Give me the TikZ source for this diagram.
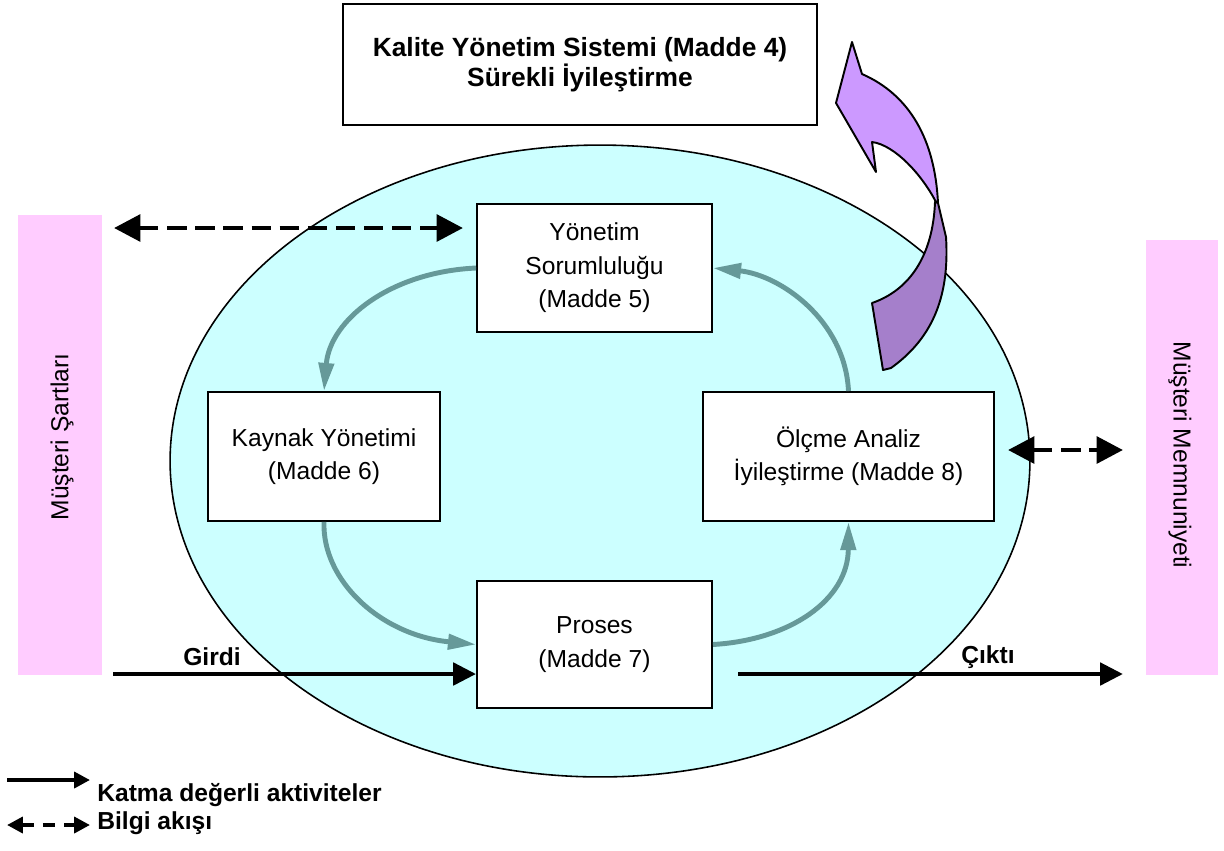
\documentclass[tikz,border=0pt]{standalone}
\usepackage{fontspec}
\setmainfont{Liberation Sans}
\usetikzlibrary{arrows.meta,shapes.geometric}
\definecolor{cyanfill}{HTML}{CCFFFF}
\definecolor{pinkfill}{HTML}{FFCCFF}
\definecolor{tealarrow}{HTML}{669999}
\definecolor{purplelight}{HTML}{CC99FF}
\definecolor{purpledark}{HTML}{A57FCB}
\begin{document}
\begin{tikzpicture}[x=0.02cm,y=-0.02cm,
  box/.style={draw, line width=1.1pt, fill=white, align=center, inner sep=0pt, font=\fontsize{14}{19}\selectfont},
  titlebox/.style={draw, line width=1.6pt, fill=white, align=center, inner sep=0pt, font=\bfseries\fontsize{15}{15.5}\selectfont},
  pinkbar/.style={fill=pinkfill, inner sep=0pt, outer sep=0pt},
  vtext/.style={font=\fontsize{14}{16}\selectfont},
  flow/.style={line width=2.8pt, -{Triangle[length=13pt,width=12.5pt]}},
  info/.style={line width=2.8pt, dash pattern=on 11pt off 5pt, {Triangle[length=15pt,width=15pt]}-{Triangle[length=15pt,width=15pt]}},
  cyc/.style={draw=tealarrow, line width=2.8pt, -{Triangle[length=16pt,width=8.5pt]}},
  lbl/.style={font=\bfseries\fontsize{14}{16}\selectfont},
  legflow/.style={line width=2.2pt, -{Triangle[length=9pt,width=9pt]}},
  leginfo/.style={line width=2.2pt, dash pattern=on 7pt off 5pt, {Triangle[length=9pt,width=9pt]}-{Triangle[length=9pt,width=9pt]}},
  ribbon/.style={draw, line width=1.1pt, line join=round}
]
\useasboundingbox[fill=white] (0,0) rectangle (1224,850);

% big ellipse
\node[ellipse, draw, line width=0.9pt, fill=cyanfill, minimum width=17.2cm, minimum height=12.64cm, inner sep=0pt] (sys) at (600,461) {};

% side bars
\node[pinkbar, minimum width=1.68cm, minimum height=9.2cm] (ms) at (60,445) {};
\node[vtext, rotate=90] (mstext) at (62,437) {Müşteri Şartları};
\node[pinkbar, minimum width=1.44cm, minimum height=8.7cm] (mm) at (1182,457.5) {};
\node[vtext, rotate=-90] (mmtext) at (1180,455) {Müşteri Memnuniyeti};

% free ends
\coordinate (dlA) at (114,228);
\coordinate (dlB) at (463,228);
\coordinate (drA) at (1008,450);
\coordinate (drB) at (1123,450);
\coordinate (gin) at (113,674);
\coordinate (coutA) at (738,674);
\coordinate (coutB) at (1123,674);

\draw[info] (dlA) -- (dlB);

% title box
\node[titlebox, minimum width=9.48cm, minimum height=2.42cm] (kys) at (580,64.5) {Kalite Yönetim Sistemi (Madde 4)\\Sürekli İyileştirme};

% process boxes
\node[box, minimum width=4.7cm, minimum height=2.56cm] (yon) at (594.5,268) {Yönetim\\Sorumluluğu\\(Madde 5)};
\node[box, minimum width=4.64cm, minimum height=2.58cm] (kay) at (324,456.5) {Kaynak Yönetimi\\(Madde 6)};
\node[box, minimum width=5.82cm, minimum height=2.58cm] (olc) at (848.5,456.5) {Ölçme Analiz\\İyileştirme (Madde 8)};
\node[box, minimum width=4.7cm, minimum height=2.54cm] (pro) at (594.5,644.5) {Proses\\(Madde 7)};

% cycle arrows
\draw[cyc] (yon.west) .. controls (390,272) and (330,320) .. (kay.north);
\draw[cyc] (kay.south) .. controls (322,580) and (380,635) .. (pro.west);
\draw[cyc] (pro.east) .. controls (790,640) and (848,600) .. (olc.south);
\draw[cyc] (olc.north) .. controls (845,320) and (780,275) .. (yon.east);

% purple twisted arrow
\draw[ribbon, fill=purplelight] (852,42) -- (836,103) -- (876,172) -- (872,142)
  .. controls (895,145) and (922,175) .. (936,202)
  -- (938,203) .. controls (935,140) and (910,95) .. (862,74) -- cycle;
\draw[ribbon, fill=purpledark] (935,202) .. controls (933,255) and (910,290) .. (872,303)
  -- (883,370) -- (891,368) .. controls (930,340) and (950,300) .. (946,237) -- (938,203) -- cycle;

% input / output
\draw[flow] (gin) -- (pro.west |- gin);
\node[lbl] (girdi) at (212,657) {Girdi};
\draw[flow] (coutA) -- (coutB);
\node[lbl] (cikti) at (988,657) {Çıktı};
\draw[info] (drA) -- (drB);

% legend
\coordinate (l1a) at (7,780);
\coordinate (l1b) at (90,780);
\coordinate (l2a) at (7,825);
\coordinate (l2b) at (90,825);
\draw[legflow] (l1a) -- (l1b);
\draw[leginfo] (l2a) -- (l2b);
\node[lbl, anchor=base west, inner sep=0pt] (leg1) at (97,801) {Katma değerli aktiviteler};
\node[lbl, anchor=base west, inner sep=0pt] (leg2) at (97,829) {Bilgi akışı};
\end{tikzpicture}
\end{document}
